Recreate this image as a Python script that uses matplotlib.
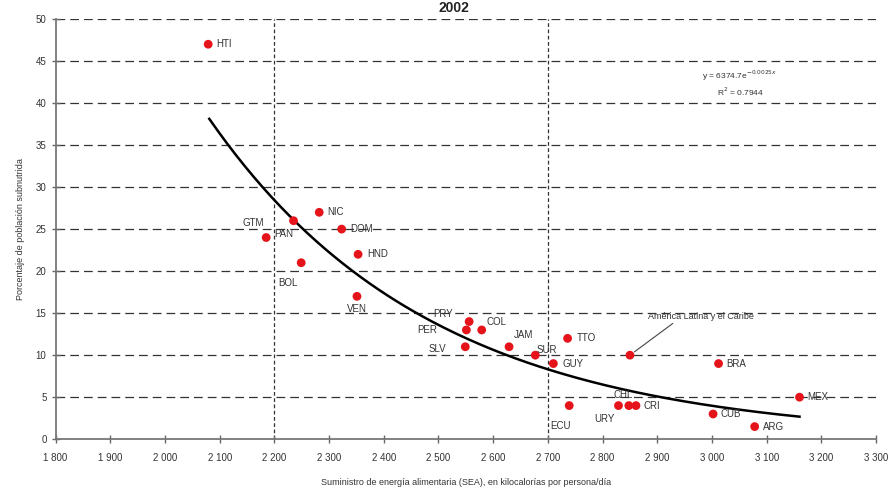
import matplotlib.pyplot as plt
import numpy as np

plt.rcParams['font.family'] = ['Liberation Sans', 'DejaVu Sans']

# country codes, food energy supply (kcal/person/day), % undernourished
codes = ['HTI', 'GTM', 'PAN', 'NIC', 'DOM', 'HND', 'BOL', 'VEN', 'PRY', 'PER',
         'COL', 'SLV', 'JAM', 'SUR', 'GUY', 'TTO', 'ECU', 'URY', 'CHL', 'CRI',
         'BRA', 'MEX', 'CUB', 'ARG']
sea = [2079, 2235, 2185, 2282, 2323, 2353, 2249, 2351, 2556, 2551,
       2579, 2549, 2629, 2677, 2710, 2736, 2739, 2829, 2848, 2861,
       3012, 3160, 3002, 3078]
subnutrida = [47, 26, 24, 27, 25, 22, 21, 17, 14, 13,
              13, 11, 11, 10, 9, 12, 4, 4, 4, 4,
              9, 5, 3, 1.5]

# regional aggregate
alc_sea = 2850
alc_val = 10

# exponential trend y = a*exp(-b*x)
fit_a = 6374.7
fit_b = 0.00246
fit_range = (2081, 3160)

# label placement: (dx, dy) in pixels, horizontal alignment
label_pos = {
    'HTI': (8, 0, 'left'), 'GTM': (-30, -2, 'right'), 'PAN': (8, 4, 'left'),
    'NIC': (8, 0, 'left'), 'DOM': (9, 0, 'left'), 'HND': (9, 0, 'left'),
    'BOL': (-23, -20, 'left'), 'VEN': (0, -13, 'center'), 'PRY': (-16, 8, 'right'),
    'PER': (-29, 0, 'right'), 'COL': (5, 8, 'left'), 'SLV': (-19, -2, 'right'),
    'JAM': (5, 12, 'left'), 'SUR': (1, 5, 'left'), 'GUY': (9, 0, 'left'),
    'TTO': (9, 0, 'left'), 'ECU': (-9, -20, 'center'), 'URY': (-4, -13, 'right'),
    'CHL': (-6, 11, 'center'), 'CRI': (8, 0, 'left'), 'BRA': (8, 0, 'left'),
    'MEX': (8, 0, 'left'), 'CUB': (7, 0, 'left'), 'ARG': (8, 0, 'left'),
}

fig = plt.figure(figsize=(8.89, 4.88), dpi=100)
ax = fig.add_axes([0.0625, 0.1, 0.923, 0.861])

# grid
for yv in range(5, 55, 5):
    ax.axhline(yv, color='#333333', lw=0.9, dashes=(7, 4), zorder=1)
for xv in (2200, 2700):
    ax.axvline(xv, color='#333333', lw=0.9, dashes=(3, 2), zorder=1)

xs = np.linspace(fit_range[0], fit_range[1], 200)
ax.plot(xs, fit_a * np.exp(-fit_b * xs), color='black', lw=1.8, zorder=3)

ax.scatter(sea, subnutrida, s=40, color='#e5141b', edgecolors='none', zorder=4)
ax.scatter([alc_sea], [alc_val], s=40, color='#e5141b', edgecolors='none', zorder=4)

for c, x, y in zip(codes, sea, subnutrida):
    dx, dy, ha = label_pos[c]
    ax.annotate(c, (x, y), xytext=(dx, dy), textcoords='offset pixels',
                ha=ha, va='center', fontsize=7, color='#333333', zorder=5)

ax.annotate('América Latina y el Caribe', (alc_sea, alc_val), xytext=(18, 39),
            textcoords='offset pixels', ha='left', va='center', fontsize=6.5,
            color='#333333',
            arrowprops=dict(arrowstyle='-', color='#444444', lw=0.8,
                            shrinkA=0, shrinkB=4,
                            relpos=(0.27, 0.0)))

ax.text(3050, 43.3, r'y = 6374.7e$^{-0.0025x}$', fontsize=6, ha='center',
        va='center', color='#333333')
ax.text(3052, 41.3, r'R$^2$ = 0.7944', fontsize=6, ha='center', va='center',
        color='#333333', bbox=dict(facecolor='white', edgecolor='none', pad=1))

ax.set_xlim(1800, 3300)
ax.set_ylim(0, 50)
ax.set_xticks(range(1800, 3301, 100))
ax.set_xticklabels([f'{v // 1000} {v % 1000:03d}' for v in range(1800, 3301, 100)])
ax.set_yticks(range(0, 51, 5))
ax.tick_params(axis='both', direction='inout', length=6, width=1, color='#666666',
               labelsize=7, labelcolor='#333333')
ax.tick_params(axis='x', pad=7)
for s in ('top', 'right'):
    ax.spines[s].set_visible(False)
for s in ('left', 'bottom'):
    ax.spines[s].set_color('#777777')
    ax.spines[s].set_linewidth(1.3)

ax.set_xlabel('Suministro de energía alimentaria (SEA), en kilocalorías por persona/día',
              fontsize=6.5, color='#333333', labelpad=11)
ax.set_ylabel('Porcentaje de población subnutrida', fontsize=6.5, color='#333333',
              labelpad=8)

fig.text(0.51, 0.998, '2002', fontsize=10, fontweight='bold', ha='center',
         va='top', color='#222222')

fig.savefig('out.png', dpi=100)
